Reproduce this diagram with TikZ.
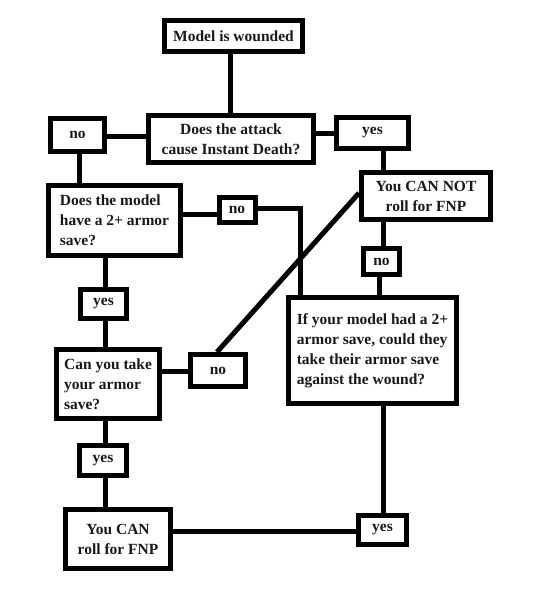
\documentclass[tikz,border=0pt]{standalone}
\usepackage{fontspec}
\setmainfont{Liberation Serif}
\begin{document}
\begin{tikzpicture}[x=1pt,y=-1pt,
  box/.style={draw=black,line width=5pt,fill=white,inner sep=0pt,
    font=\bfseries\fontsize{15.5}{20}\selectfont,text=black!90},
  conn/.style={draw=black,line width=5pt}]
\useasboundingbox[fill=white] (0,0) rectangle (550,600);
% boxes
\node[box,minimum width=138pt,minimum height=31pt] (wound) at (233.5,36) {Model is wounded};
\node[box,minimum width=165pt,minimum height=47pt,align=center] (attack) at (231,139) {Does the attack\\cause Instant Death?};
\node[box,minimum width=54pt,minimum height=33pt] (no1) at (77.5,135) {no};
\node[box,minimum width=72pt,minimum height=31pt] (yes1) at (372.5,133) {yes};
\node[box,minimum width=129pt,minimum height=47pt,align=center] (cannot) at (426,196) {You CAN NOT\\roll for FNP};
\node[box,minimum width=132pt,minimum height=70pt,align=left] (model2) at (114.5,220.5) {Does the model\\have a 2+ armor\\save?};
\node[box,minimum width=36pt,minimum height=25pt] (no2) at (237,210) {no};
\node[box,minimum width=36pt,minimum height=26pt] (no3) at (381.5,261.5) {no};
\node[box,minimum width=168pt,minimum height=106pt,align=left] (ifbox) at (372.5,350.5) {If your model had a 2+\\armor save, could they\\take their armor save\\against the wound?};
\node[box,minimum width=46pt,minimum height=29pt] (yes2) at (103.5,304) {yes};
\node[box,minimum width=103pt,minimum height=69pt,align=left] (can) at (108,384) {Can you take\\your armor\\save?};
\node[box,minimum width=55pt,minimum height=32pt] (no4) at (218,370.5) {no};
\node[box,minimum width=47pt,minimum height=30pt] (yes3) at (103,460.5) {yes};
\node[box,minimum width=105pt,minimum height=59pt,align=center] (canroll) at (118,539) {You CAN\\roll for FNP};
\node[box,minimum width=48pt,minimum height=29pt] (yes4) at (382.5,530) {yes};
% helper coordinates
\coordinate (k1) at (230,0);
\coordinate (k2) at (0,136);
\coordinate (k3) at (0,133);
\coordinate (k4) at (383,0);
\coordinate (k5) at (79,0);
\coordinate (k6) at (0,214);
\coordinate (k7) at (0,208);
\coordinate (k8) at (300,208);
\coordinate (k9) at (379,0);
\coordinate (k10) at (0,193);
\coordinate (k11) at (217,0);
\coordinate (k12) at (105,0);
\coordinate (k13) at (0,371);
\coordinate (k14) at (0,531);
% connectors
\draw[conn] (wound.south -| k1) -- (attack.north -| k1);
\draw[conn] (no1.east |- k2) -- (attack.west |- k2);
\draw[conn] (attack.east |- k3) -- (yes1.west |- k3);
\draw[conn] (yes1.south -| k4) -- (cannot.north -| k4);
\draw[conn] (no1.south -| k5) -- (model2.north -| k5);
\draw[conn] (model2.east |- k6) -- (no2.west |- k6);
\draw[conn] (no2.east |- k7) -- (k8) -- (k8 |- ifbox.north);
\draw[conn] (cannot.south -| k4) -- (no3.north -| k4);
\draw[conn] (no3.south -| k9) -- (ifbox.north -| k9);
\draw[conn] (cannot.west |- k10) -- (no4.north -| k11);
\draw[conn] (model2.south -| k12) -- (yes2.north -| k12);
\draw[conn] (yes2.south -| k12) -- (can.north -| k12);
\draw[conn] (can.east |- k13) -- (no4.west |- k13);
\draw[conn] (can.south -| k12) -- (yes3.north -| k12);
\draw[conn] (yes3.south -| k12) -- (canroll.north -| k12);
\draw[conn] (canroll.east |- k14) -- (yes4.west |- k14);
\draw[conn] (ifbox.south -| k4) -- (yes4.north -| k4);
\end{tikzpicture}
\end{document}
